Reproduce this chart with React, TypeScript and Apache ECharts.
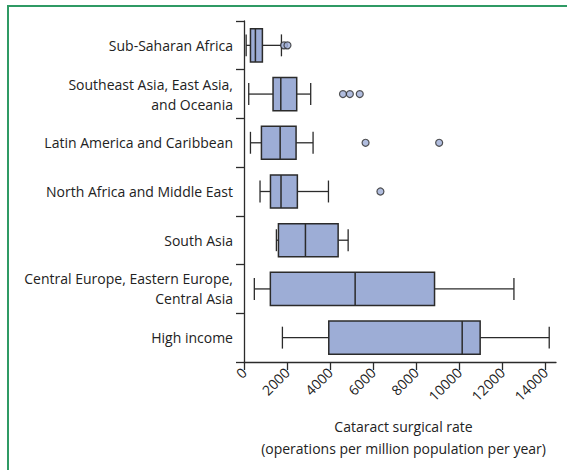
import React, { useEffect, useRef } from "react";
import * as echarts from "echarts";

const categories = [
  "Sub-Saharan Africa",
  "Southeast Asia, East Asia,\nand Oceania",
  "Latin America and Caribbean",
  "North Africa and Middle East",
  "South Asia",
  "Central Europe, Eastern Europe,\nCentral Asia",
  "High income",
];
const whiskerLow = [100, 220, 300, 745, 1505, 480, 1785];
const q1 = [300, 1350, 810, 1230, 1600, 1225, 3940];
const median = [530, 1710, 1680, 1720, 2855, 5165, 10140];
const q3 = [855, 2450, 2420, 2480, 4375, 8855, 10975];
const whiskerHigh = [1740, 3100, 3210, 3925, 4840, 12545, 14185];
const outlierValues = [1860, 2020, 4600, 4920, 5380, 5650, 9070, 6340];
const outlierCategory = [0, 0, 1, 1, 1, 2, 2, 3];
const tickValues = [0, 2000, 4000, 6000, 8000, 10000, 12000, 14000];

const BOX_FILL = "#9dadd6";
const STROKE = "#2b2b2b";
const TEXT = "#222222";
const FONT = "Open Sans";

export default function App() {
  const ref = useRef<HTMLDivElement>(null);
  useEffect(() => {
    if (!ref.current) return;
    const chart = echarts.init(ref.current, null, { renderer: "svg" });
    const boxData = categories.map((_, i) => [
      i,
      whiskerLow[i],
      q1[i],
      median[i],
      q3[i],
      whiskerHigh[i],
    ]);
    const outliers = outlierValues.map((v, i) => [v, outlierCategory[i]]);
    chart.setOption({
      animation: false,
      textStyle: { fontFamily: FONT },
      grid: { left: 244, right: 11, top: 21, bottom: 108, containLabel: false },
      xAxis: {
        type: "value",
        min: 0,
        max: 14500,
        interval: 2000,
        splitLine: { show: false },
        axisLine: { show: true, lineStyle: { color: STROKE, width: 1.3 } },
        axisTick: {
          show: true,
          length: 8,
          customValues: tickValues,
          lineStyle: { color: STROKE, width: 1.3 },
        },
        axisLabel: {
          customValues: tickValues,
          formatter: (v: number) => String(v),
          rotate: 45,
          fontSize: 14,
          color: TEXT,
          fontFamily: FONT,
          margin: 8,
        },
        name: "Cataract surgical rate\n(operations per million population per year)",
        nameLocation: "middle",
        nameGap: 53,
        nameTextStyle: {
          fontSize: 14,
          color: TEXT,
          fontFamily: FONT,
          lineHeight: 22,
          verticalAlign: "top",
          padding: [0, 0, 0, 7],
        },
      },
      yAxis: {
        type: "category",
        data: categories,
        inverse: true,
        axisLine: { show: true, lineStyle: { color: STROKE, width: 1.3 } },
        axisTick: { show: true, length: 8, lineStyle: { color: STROKE, width: 1.3 } },
        axisLabel: {
          fontSize: 14,
          lineHeight: 20,
          color: TEXT,
          fontFamily: FONT,
          margin: 11,
          align: "right",
        },
        splitLine: { show: false },
      },
      graphic: [
        {
          type: "line",
          shape: { x1: 8, y1: 6, x2: 567, y2: 6 },
          style: { stroke: "#2f9a64", lineWidth: 2 },
        },
        {
          type: "line",
          shape: { x1: 8, y1: 5, x2: 8, y2: 470 },
          style: { stroke: "#2f9a64", lineWidth: 2 },
        },
      ],
      series: [
        {
          type: "custom",
          data: boxData,
          encode: { x: [1, 2, 3, 4, 5], y: 0 },
          renderItem: (params: any, api: any) => {
            const c = api.value(0);
            const pLo = api.coord([api.value(1), c]);
            const pQ1 = api.coord([api.value(2), c]);
            const pMed = api.coord([api.value(3), c]);
            const pQ3 = api.coord([api.value(4), c]);
            const pHi = api.coord([api.value(5), c]);
            const band = api.size([0, 1])[1];
            const bh = band * 0.68;
            const cap = band * 0.45;
            const y = pMed[1];
            const ls = { stroke: STROKE, lineWidth: 1.3 };
            return {
              type: "group",
              children: [
                { type: "line", shape: { x1: pLo[0], y1: y, x2: pQ1[0], y2: y }, style: ls },
                { type: "line", shape: { x1: pQ3[0], y1: y, x2: pHi[0], y2: y }, style: ls },
                { type: "line", shape: { x1: pLo[0], y1: y - cap / 2, x2: pLo[0], y2: y + cap / 2 }, style: ls },
                { type: "line", shape: { x1: pHi[0], y1: y - cap / 2, x2: pHi[0], y2: y + cap / 2 }, style: ls },
                {
                  type: "rect",
                  shape: { x: pQ1[0], y: y - bh / 2, width: pQ3[0] - pQ1[0], height: bh },
                  style: { fill: BOX_FILL, stroke: STROKE, lineWidth: 1.5 },
                },
                { type: "line", shape: { x1: pMed[0], y1: y - bh / 2, x2: pMed[0], y2: y + bh / 2 }, style: { stroke: STROKE, lineWidth: 1.5 } },
              ],
            };
          },
        },
        {
          type: "scatter",
          data: outliers,
          symbol: "circle",
          symbolSize: 7,
          itemStyle: { color: BOX_FILL, borderColor: STROKE, borderWidth: 1.2 },
        },
      ],
    });
    return () => chart.dispose();
  }, []);
  return (
    <div
      ref={ref}
      style={{ position: "fixed", left: 0, top: 0, width: 567, height: 470, background: "#fff" }}
    />
  );
}
